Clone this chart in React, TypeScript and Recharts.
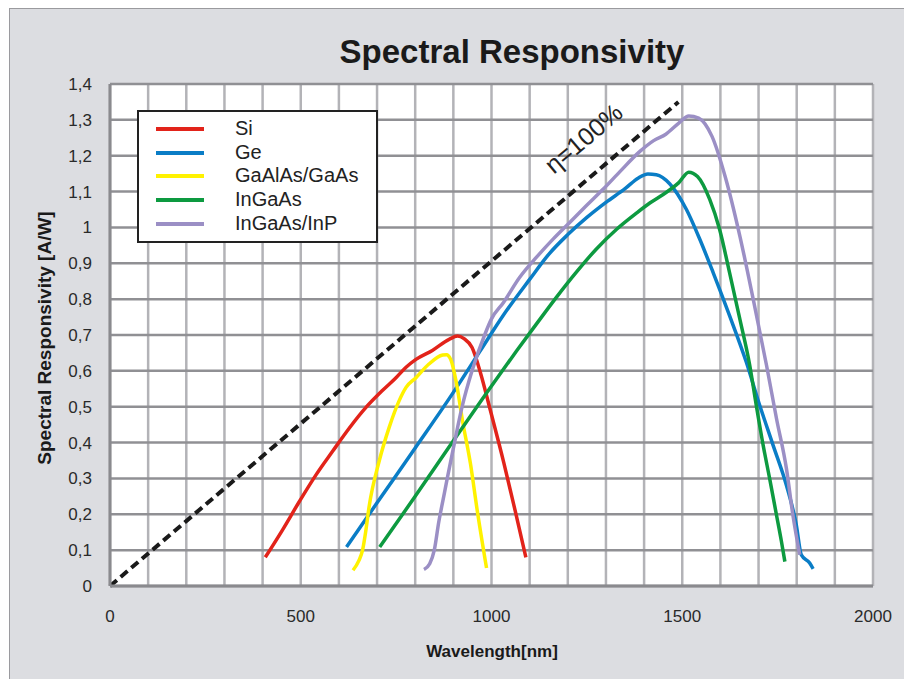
import { LineChart, Line, XAxis, YAxis, CartesianGrid, ReferenceDot } from 'recharts';

// wavelength [nm], responsivity [A/W]
const si = [
  [407, 0.08], [452, 0.156], [496, 0.235], [540, 0.31], [583, 0.375], [627, 0.44], [671, 0.498],
  [714, 0.545], [749, 0.58], [776, 0.61], [802, 0.632], [845, 0.657], [889, 0.688], [911, 0.697],
  [928, 0.69], [949, 0.665], [971, 0.595], [997, 0.49], [1032, 0.345], [1062, 0.21], [1090, 0.08],
];
const ge = [
  [620, 0.109], [700, 0.232], [800, 0.385], [900, 0.54], [970, 0.655], [1031, 0.755], [1100, 0.855],
  [1150, 0.925], [1200, 0.98], [1250, 1.028], [1300, 1.07], [1350, 1.108], [1385, 1.138], [1410, 1.149],
  [1432, 1.147], [1467, 1.122], [1511, 1.05], [1546, 0.967], [1581, 0.874], [1624, 0.754], [1668, 0.624],
  [1703, 0.504], [1738, 0.393], [1773, 0.281], [1799, 0.17], [1812, 0.087], [1834, 0.064], [1843, 0.048],
];
const gaAlAs = [
  [637, 0.044], [652, 0.07], [662, 0.1], [670, 0.15], [679, 0.22], [706, 0.35], [732, 0.443],
  [758, 0.517], [776, 0.554], [802, 0.581], [836, 0.619], [872, 0.644], [882, 0.645], [893, 0.632],
  [907, 0.572], [924, 0.461], [945, 0.34], [962, 0.215], [987, 0.05],
];
const inGaAs = [
  [707, 0.109], [800, 0.25], [900, 0.405], [1000, 0.558], [1066, 0.656], [1118, 0.731], [1170, 0.805],
  [1223, 0.876], [1275, 0.94], [1328, 0.995], [1380, 1.04], [1415, 1.068], [1450, 1.092], [1491, 1.125],
  [1517, 1.154], [1540, 1.142], [1572, 1.078], [1598, 0.994], [1624, 0.874], [1651, 0.744], [1677, 0.615],
  [1694, 0.504], [1712, 0.393], [1729, 0.3], [1747, 0.198], [1760, 0.124], [1769, 0.068],
];
const inGaAsInP = [
  [823, 0.046], [838, 0.062], [850, 0.1], [862, 0.18], [873, 0.24], [884, 0.3], [903, 0.4],
  [923, 0.5], [949, 0.6], [982, 0.7], [1000, 0.745], [1031, 0.79], [1074, 0.861], [1118, 0.917],
  [1162, 0.968], [1205, 1.014], [1249, 1.061], [1293, 1.107], [1336, 1.155], [1389, 1.212], [1425, 1.242],
  [1457, 1.26], [1491, 1.291], [1517, 1.311], [1543, 1.305], [1578, 1.254], [1613, 1.14], [1651, 0.976],
  [1686, 0.8], [1721, 0.615], [1747, 0.467], [1773, 0.328], [1790, 0.198], [1808, 0.087],
];
// eta = 100% reference line
const ideal = [[0, 0], [1490, 1.35]];

const xTicks = [0, 100, 200, 300, 400, 500, 600, 700, 800, 900, 1000, 1100, 1200, 1300, 1400, 1500, 1600, 1700, 1800, 1900, 2000];
const xLabels = [0, 500, 1000, 1500, 2000];
const yTicks = [0, 0.1, 0.2, 0.3, 0.4, 0.5, 0.6, 0.7, 0.8, 0.9, 1, 1.1, 1.2, 1.3, 1.4];

const series = [
  { name: 'Si', data: si, color: '#e2231a' },
  { name: 'Ge', data: ge, color: '#0a7dc6' },
  { name: 'GaAlAs/GaAs', data: gaAlAs, color: '#fff200' },
  { name: 'InGaAs', data: inGaAs, color: '#0d9a40' },
  { name: 'InGaAs/InP', data: inGaAsInP, color: '#9b8fc5' },
];

const toPoints = (arr: number[][]) => arr.map(([x, y]) => ({ x, y }));

const FONT = '"Liberation Sans", Arial, sans-serif';

// rotated η=100% text anchored on a data point
const EtaLabel = (props: any) => {
  const vb = props.viewBox || {};
  const cx = (vb.x || 0) + (vb.width || 0) / 2;
  const cy = (vb.y || 0) + (vb.height || 0) / 2;
  return (
    <text
      x={cx}
      y={cy}
      transform={`rotate(-40 ${cx} ${cy})`}
      textAnchor="middle"
      dominantBaseline="middle"
      fontFamily={FONT}
      fontSize={25}
      fill="#222"
    >
      η=100%
    </text>
  );
};

export default function App() {
  return (
    <div style={{ position: 'absolute', left: 0, top: 0, width: 904, height: 679, background: '#fff', overflow: 'hidden', fontFamily: FONT }}>
      <div
        style={{
          position: 'absolute', left: 9, top: 8, width: 895, height: 671,
          background: '#dcdde1', borderLeft: '1.5px solid #9a9a9e', borderTop: '1.5px solid #9a9a9e',
          boxSizing: 'border-box',
        }}
      />
      <div style={{ position: 'absolute', left: 512, top: 35, transform: 'translateX(-50%)', fontSize: 33, lineHeight: '33px', fontWeight: 'bold', color: '#1a1a1a', whiteSpace: 'nowrap' }}>
        Spectral Responsivity
      </div>
      <div style={{ position: 'absolute', left: 0, top: 0 }}>
        <LineChart width={904} height={679} margin={{ top: 84, right: 31, bottom: 53, left: 50 }}>
          <CartesianGrid fill="#ffffff" horizontal={false} stroke="#b3b3b7" strokeWidth={2.5} />
          <CartesianGrid vertical={false} stroke="#909094" strokeWidth={2.5} />
          <XAxis
            type="number"
            dataKey="x"
            domain={[0, 2000]}
            ticks={xTicks}
            interval={0}
            tickFormatter={(v: number) => (xLabels.includes(v) ? String(v) : '')}
            height={40}
            tickSize={0}
            tickMargin={24}
            tickLine={false}
            axisLine={{ stroke: '#8a8a8e', strokeWidth: 3 }}
            tick={{ fontSize: 17, fill: '#2a2a2a', fontFamily: FONT }}
          />
          <YAxis
            type="number"
            domain={[0, 1.4]}
            ticks={yTicks}
            interval={0}
            tickFormatter={(v: number) => String(v).replace('.', ',')}
            width={60}
            tickSize={0}
            tickMargin={18}
            tickLine={false}
            axisLine={{ stroke: '#8a8a8e', strokeWidth: 3 }}
            tick={{ fontSize: 17, fill: '#2a2a2a', fontFamily: FONT }}
          />
          <Line
            data={toPoints(ideal)}
            dataKey="y"
            type="linear"
            stroke="#1a1a1a"
            strokeWidth={4}
            strokeDasharray="9 5"
            dot={false}
            activeDot={false}
            isAnimationActive={false}
          />
          {series.map((s) => (
            <Line
              key={s.name}
              data={toPoints(s.data)}
              dataKey="y"
              name={s.name}
              type="monotone"
              stroke={s.color}
              strokeWidth={3.5}
              dot={false}
              activeDot={false}
              isAnimationActive={false}
            />
          ))}
          <ReferenceDot x={1245} y={1.244} r={0} fill="none" stroke="none" label={EtaLabel} />
        </LineChart>
      </div>
      {/* legend */}
      <div
        style={{
          position: 'absolute', left: 137, top: 110, width: 241, height: 133,
          background: '#fff', border: '2px solid #222', boxSizing: 'border-box', paddingTop: 5,
        }}
      >
        {series.map((s) => (
          <div key={s.name} style={{ position: 'relative', height: 23.7 }}>
            <span style={{ position: 'absolute', left: 17, top: 10, width: 48, height: 4, background: s.color }} />
            <span style={{ position: 'absolute', left: 96, top: 0, fontSize: 20, lineHeight: '23.7px', color: '#222', whiteSpace: 'nowrap' }}>
              {s.name}
            </span>
          </div>
        ))}
      </div>
      <div style={{ position: 'absolute', left: 492, top: 643, transform: 'translateX(-50%)', fontSize: 17, lineHeight: '17px', fontWeight: 'bold', color: '#1a1a1a', whiteSpace: 'nowrap' }}>
        Wavelength[nm]
      </div>
      <div style={{ position: 'absolute', left: 44, top: 338, transform: 'translate(-50%, -50%) rotate(-90deg)', fontSize: 19, lineHeight: '19px', fontWeight: 'bold', color: '#1a1a1a', whiteSpace: 'nowrap' }}>
        Spectral Responsivity [A/W]
      </div>
    </div>
  );
}
